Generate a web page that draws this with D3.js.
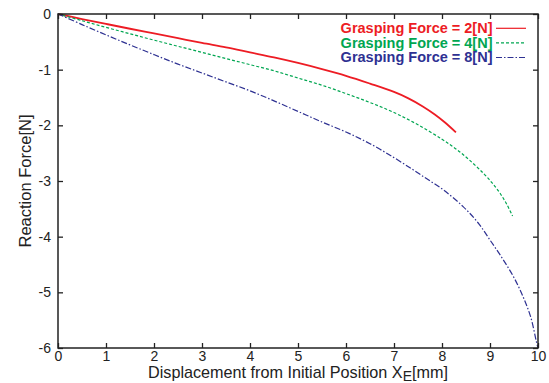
<!DOCTYPE html>
<html><head><meta charset="utf-8">
<script src="https://cdn.jsdelivr.net/npm/d3@7"></script>
<style>body{margin:0;background:#fff}svg{display:block}text{font-family:"Liberation Sans",Arial,sans-serif}</style>
</head><body><svg id="c" width="549" height="383"></svg>
<script>
const xTicks = [0,1,2,3,4,5,6,7,8,9,10];
const yTicks = [0,-1,-2,-3,-4,-5,-6];
const seriesNames = ["Grasping Force = 2[N]","Grasping Force = 4[N]","Grasping Force = 8[N]"];
const redX = [0,0.5,1,1.5,2,2.5,3,3.5,4,4.5,5,5.5,6,6.5,7,7.3,7.6,7.85,8.05,8.29];
const redY = [0,-0.09,-0.178,-0.265,-0.35,-0.435,-0.52,-0.60,-0.69,-0.78,-0.88,-0.99,-1.11,-1.25,-1.40,-1.515,-1.66,-1.805,-1.94,-2.125];
const greenX = [0,0.5,1,1.5,2,2.5,3,3.5,4,4.5,5,5.5,6,6.5,7,7.5,8,8.3,8.58,8.86,9.05,9.21,9.35,9.47];
const greenY = [0,-0.12,-0.24,-0.355,-0.47,-0.58,-0.69,-0.80,-0.91,-1.02,-1.15,-1.28,-1.43,-1.59,-1.77,-1.99,-2.25,-2.43,-2.63,-2.86,-3.04,-3.22,-3.42,-3.63];
const blueX = [0,0.5,1,1.5,2,2.5,3,3.5,4,4.5,5,5.5,6,6.5,7,7.4,7.7,8.03,8.44,8.75,9.0,9.25,9.49,9.69,9.85,9.97,10];
const blueY = [0,-0.19,-0.375,-0.555,-0.73,-0.90,-1.06,-1.22,-1.38,-1.56,-1.75,-1.94,-2.12,-2.33,-2.58,-2.80,-2.97,-3.16,-3.46,-3.75,-4.06,-4.38,-4.72,-5.08,-5.45,-5.9,-6];
const colors = ["#ed1c24","#00a651","#2e3192"];
const dashes = [null,"3,2","6,2,1.5,2"];
const series = [[redX,redY],[greenX,greenY],[blueX,blueY]];

const svg = d3.select("#c");
const L=58,R=538,T=14,B=348;
const x = d3.scaleLinear().domain([0,10]).range([L,R]);
const y = d3.scaleLinear().domain([-6,0]).range([B,T]);

const line = d3.line().x(d=>x(d[0])).y(d=>y(d[1])).curve(d3.curveCatmullRom.alpha(0.5));
series.forEach((s,i)=>{
  const pts = s[0].map((v,j)=>[v,s[1][j]]);
  svg.append("path").attr("d",line(pts)).attr("fill","none")
    .attr("stroke",colors[i]).attr("stroke-width",i===0?1.8:1.2)
    .attr("stroke-dasharray",dashes[i]);
});

const tl=5;
const fmt = d=>String(d);
const gB = svg.append("g").attr("transform",`translate(0,${B})`)
  .call(d3.axisBottom(x).tickValues(xTicks).tickSize(-tl).tickPadding(2).tickFormat(fmt));
const gT = svg.append("g").attr("transform",`translate(0,${T})`)
  .call(d3.axisTop(x).tickValues(xTicks).tickSize(-tl).tickFormat(""));
const gL = svg.append("g").attr("transform",`translate(${L},0)`)
  .call(d3.axisLeft(y).tickValues(yTicks).tickSize(-tl).tickPadding(7).tickFormat(fmt));
const gR = svg.append("g").attr("transform",`translate(${R},0)`)
  .call(d3.axisRight(y).tickValues(yTicks).tickSize(-tl).tickFormat(""));
[gB,gT,gL,gR].forEach(g=>{
  g.selectAll(".domain").remove();
  g.selectAll("line").attr("stroke","#222").attr("stroke-width",1.3);
  g.selectAll("text").attr("font-size",14).attr("fill","#222").attr("font-family","Liberation Sans, Arial, sans-serif");
});
gB.selectAll("text").attr("dy",null).attr("y",12.5);
svg.append("rect").attr("x",L).attr("y",T).attr("width",R-L).attr("height",B-T)
  .attr("fill","none").attr("stroke","#222").attr("stroke-width",1.5);

const xt = svg.append("text").attr("x",(L+R)/2).attr("y",377.5).attr("text-anchor","middle")
  .attr("font-size",16.2).attr("fill","#222");
xt.append("tspan").text("Displacement from Initial Position X");
xt.append("tspan").attr("font-size",14).attr("dy",3).text("E");
xt.append("tspan").attr("dy",-3).text("[mm]");

svg.append("text").attr("transform",`translate(31,${(T+B)/2}) rotate(-90)`)
  .attr("text-anchor","middle").attr("font-size",16.5).attr("fill","#222").text("Reaction Force[N]");

seriesNames.forEach((n,i)=>{
  const yy = 28.3+i*14.6;
  svg.append("text").attr("x",492.5).attr("y",yy+4.8).attr("text-anchor","end")
    .attr("font-size",14.5).attr("font-weight","bold").attr("fill",colors[i]).text(n);
  svg.append("line").attr("x1",496).attr("x2",526).attr("y1",yy).attr("y2",yy)
    .attr("stroke",colors[i]).attr("stroke-width",1.2).attr("stroke-dasharray",dashes[i]);
});
</script></body></html>
